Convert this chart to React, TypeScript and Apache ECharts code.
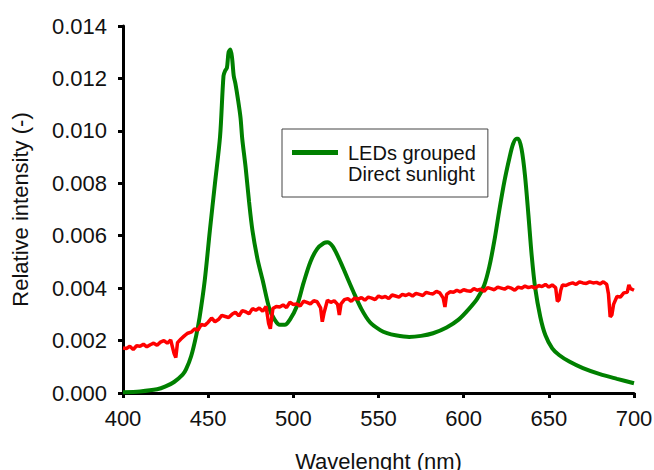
import React, { useEffect, useRef } from "react";
import * as echarts from "echarts";

const xTicks = [400, 450, 500, 550, 600, 650, 700];

const ledWl = [400, 410, 420, 425, 430, 435, 437, 440, 443, 445, 448, 451, 454, 457, 459, 460, 461, 462, 463, 464, 465, 466, 467.5, 469, 470, 472, 474, 476, 479, 482, 486, 489, 492, 495, 498, 502, 506, 510, 514, 518, 520, 523, 527, 531, 535, 540, 545, 551, 555, 560, 568, 575, 582, 590, 597, 603, 608, 612, 615, 618, 621, 624, 627, 629, 631, 632, 634, 636, 638, 640, 642, 645, 648, 652, 656, 662, 670, 680, 690, 700];
const ledVal = [0.00003, 0.00006, 0.00014, 0.00025, 0.00042, 0.0007, 0.0009, 0.0014, 0.0022, 0.0029, 0.0043, 0.0062, 0.008, 0.0098, 0.0121, 0.0123, 0.0124, 0.013, 0.0131, 0.0128, 0.0121, 0.0118, 0.0112, 0.0105, 0.0097, 0.0086, 0.0073, 0.0062, 0.0051, 0.0043, 0.0032, 0.0028, 0.0026, 0.0026, 0.0028, 0.0033, 0.0042, 0.005, 0.0055, 0.00572, 0.00575, 0.0056, 0.0051, 0.0045, 0.0039, 0.0032, 0.0027, 0.0024, 0.00228, 0.0022, 0.00214, 0.00218, 0.00228, 0.0025, 0.0028, 0.0032, 0.0036, 0.0041, 0.0048, 0.0058, 0.007, 0.0081, 0.009, 0.0095, 0.0097, 0.0097, 0.0093, 0.0083, 0.0068, 0.0052, 0.004, 0.0029, 0.0022, 0.0017, 0.00145, 0.0012, 0.00095, 0.00072, 0.00054, 0.00037];

const sunWl = [400, 402, 404, 406, 408, 410, 412, 414, 416, 418, 420, 422, 424, 426, 428, 430, 431, 432, 434, 436, 438, 440, 442, 444, 446, 448, 450, 452, 454, 456, 458, 460, 462, 464, 466, 468, 470, 472, 474, 476, 478, 480, 482, 484, 485.5, 486.5, 488, 490, 492, 494, 496, 498, 500, 502, 504, 506, 508, 510, 512, 514, 516, 517, 518, 520, 522, 524, 526, 527, 528, 530, 532, 534, 536, 538, 540, 542, 544, 546, 548, 550, 552, 554, 556, 558, 560, 562, 564, 566, 568, 570, 572, 574, 576, 578, 580, 582, 584, 586, 588, 589, 590, 592, 594, 596, 598, 600, 602, 604, 606, 608, 610, 612, 614, 616, 618, 620, 622, 624, 626, 628, 630, 632, 634, 636, 638, 640, 642, 644, 646, 648, 650, 652, 654, 655, 656, 657, 658, 660, 662, 664, 666, 668, 670, 672, 674, 676, 678, 680, 682, 684, 685, 686, 687, 688, 690, 692, 694, 696, 697, 698, 700];
const sunVal = [
  0.00172, 0.0017, 0.00178, 0.00166, 0.0018, 0.00178, 0.00186, 0.00176, 0.00184, 0.0019, 0.00182, 0.00194, 0.002, 0.0019, 0.00202, 0.0015,
  0.00135,
  0.00192, 0.00206, 0.00218, 0.00228, 0.00232, 0.00244, 0.0024, 0.00262, 0.00258, 0.0027, 0.00286, 0.00272, 0.0028, 0.00296, 0.00292, 0.00288, 0.003, 0.00308, 0.00294, 0.00314, 0.0031, 0.00302, 0.00322, 0.00316, 0.00324, 0.00312, 0.0033,
  0.00265, 0.00245,
  0.00322, 0.0033, 0.00328, 0.00336, 0.00326, 0.00346, 0.00338, 0.0034, 0.00332, 0.0035, 0.00346, 0.0034, 0.00352, 0.00348, 0.00325,
  0.00272,
  0.00305, 0.00354, 0.00346, 0.00352, 0.00338,
  0.00298,
  0.0034, 0.00356, 0.0036, 0.0035, 0.00362, 0.00358, 0.00364, 0.00354, 0.00366, 0.00362, 0.00356, 0.0037, 0.00364, 0.00368, 0.0036, 0.00374, 0.0037, 0.00366, 0.00376, 0.00372, 0.00378, 0.0037, 0.0038, 0.00376, 0.00372, 0.00384, 0.0038, 0.00378, 0.00388, 0.00382, 0.00362,
  0.00328,
  0.00376, 0.00386, 0.00384, 0.00392, 0.00386, 0.00394, 0.0039, 0.00388, 0.00398, 0.00392, 0.00396, 0.00388, 0.00402, 0.00398, 0.00394, 0.00404, 0.004, 0.00396, 0.00404, 0.004, 0.00392, 0.00404, 0.004, 0.00408, 0.00402, 0.00406, 0.004, 0.0041, 0.00406, 0.00414, 0.00404, 0.00412, 0.00402,
  0.0035, 0.00355, 0.00392,
  0.00412, 0.0041, 0.00416, 0.0042, 0.00414, 0.00424, 0.0042, 0.00418, 0.00424, 0.0042, 0.00422, 0.00416, 0.00424, 0.00414,
  0.00378, 0.0029, 0.00298, 0.00338,
  0.00368, 0.00366, 0.00382, 0.00384,
  0.00412, 0.00398, 0.00392,
];

const FONT = "'Liberation Sans', Arial, sans-serif";

export default function App() {
  const ref = useRef<HTMLDivElement>(null);
  useEffect(() => {
    document.body.style.margin = "0";
    if (!ref.current) return;
    const chart = echarts.init(ref.current, undefined, { renderer: "svg" });
    chart.setOption({
      animation: false,
      backgroundColor: "#fff",
      textStyle: { fontFamily: FONT },
      grid: { left: 123, right: 20, top: 26, bottom: 77, containLabel: false, outerBoundsMode: "none" },
      legend: {
        orient: "vertical",
        left: 282,
        top: 129,
        padding: [13, 12, 13, 10],
        itemGap: 0,
        itemWidth: 46,
        itemHeight: 5,
        backgroundColor: "#fff",
        borderColor: "#444",
        borderWidth: 1,
        borderRadius: 0,
        selectedMode: false,
        textStyle: { fontFamily: FONT, fontSize: 20, color: "#111", lineHeight: 21, padding: [0, 0, 0, 5] },
        data: [
          { name: "LEDs grouped", icon: "rect", itemStyle: { color: "#008000" } },
          { name: "Direct sunlight", icon: "rect", itemStyle: { color: "#ff0000", opacity: 0 } },
        ],
      },
      xAxis: {
        type: "value",
        min: xTicks[0],
        max: xTicks[xTicks.length - 1],
        interval: 50,
        name: "Wavelenght (nm)",
        nameLocation: "middle",
        nameGap: 57,
        nameTextStyle: { fontFamily: FONT, fontSize: 22, color: "#111" },
        axisLine: { lineStyle: { color: "#000", width: 3 } },
        axisTick: { show: true, inside: false, length: 5, lineStyle: { color: "#000", width: 3 } },
        axisLabel: { fontFamily: FONT, fontSize: 22, color: "#111", margin: 14 },
        splitLine: { show: false },
      },
      yAxis: {
        type: "value",
        min: 0,
        max: 0.014,
        interval: 0.002,
        name: "Relative intensity (-)",
        nameLocation: "middle",
        nameGap: 92,
        nameTextStyle: { fontFamily: FONT, fontSize: 22, color: "#111" },
        axisLine: { show: true, lineStyle: { color: "#000", width: 3 } },
        axisTick: { show: true, inside: false, length: 5, lineStyle: { color: "#000", width: 3 } },
        axisLabel: {
          fontFamily: FONT,
          fontSize: 22,
          color: "#111",
          margin: 16,
          formatter: (v: number) => v.toFixed(3),
        },
        splitLine: { show: false },
      },
      series: [
        {
          name: "LEDs grouped",
          type: "line",
          symbol: "none",
          smooth: 0.3,
          data: ledWl.map((w, i) => [w, ledVal[i]]),
          lineStyle: { color: "#008000", width: 4 },
          itemStyle: { color: "#008000" },
          z: 2,
        },
        {
          name: "Direct sunlight",
          type: "line",
          symbol: "none",
          data: sunWl.map((w, i) => [w, sunVal[i]]),
          lineStyle: { color: "#ff0000", width: 3.5 },
          itemStyle: { color: "#ff0000" },
          z: 3,
        },
      ],
    });
    return () => chart.dispose();
  }, []);
  return <div ref={ref} style={{ width: 654, height: 470 }} />;
}
